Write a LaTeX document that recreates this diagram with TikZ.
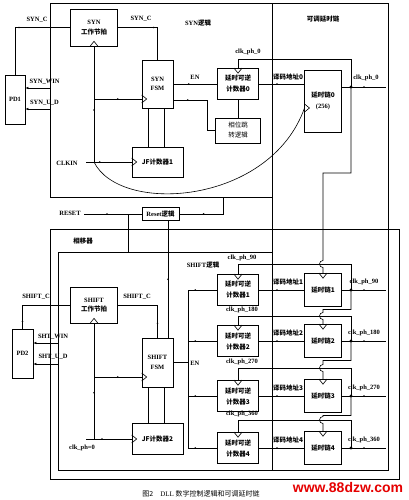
\documentclass[tikz,border=0pt]{standalone}
\usepackage{fontspec}
\setmainfont{Liberation Serif}
\newfontfamily\cjk{Noto Sans CJK SC}
\newfontfamily\wmfont{Liberation Sans}
\usetikzlibrary{arrows.meta,positioning,decorations.markings}
\newcommand{\zh}[1]{{\cjk #1}}

\tikzset{
  blk/.style={draw,line width=0.7pt,inner sep=0pt,align=center,font=\fontsize{6.5}{9.5}\selectfont\bfseries},
  cnt/.style={blk,minimum width=41,minimum height=31,font=\fontsize{6.5}{11}\selectfont\bfseries},
  chn/.style={blk,minimum width=37,minimum height=33},
  lbl/.style={inner sep=0pt,font=\fontsize{6.5}{8}\selectfont\bfseries},
  boxline/.style={line width=0.8pt},
  mk/.style={postaction={decorate},decoration={markings,mark=at position #1 with {\fill (0,0) circle (0.9pt);}}},
  mk/.default=0.5,
  win/.style={-{Latex[length=3pt,width=2.6pt]}},
}

\begin{document}
\begin{tikzpicture}[x=1pt,y=-1pt,line width=0.6pt]
  \useasboundingbox (0,0) rectangle (408,500);

  % frames
  \draw[boxline] (50,3) rectangle (272,197);
  \draw[boxline] (272,3) rectangle (388,470);
  \draw[boxline] (50,229) rectangle (399,479);
  \draw[boxline] (58,252) rectangle (272,470);
  \node[lbl] at (198,23) {SYN\zh{逻辑}};
  \node[lbl] at (323,19) {\zh{可调延时链}};
  \node[lbl] at (83,241) {\zh{相移器}};
  \node[lbl] at (203,265) {SHIFT\zh{逻辑}};

  % SYN part
  \node[blk,minimum width=20,minimum height=49] (pdone) at (15,99.5) {PD1};
  \node[blk,minimum width=47,minimum height=37] (synbeat) at (94,27.5) {SYN\\\zh{工作节拍}};
  \node[blk,minimum width=31,minimum height=48] (synfsm) at (157.5,84) {SYN\\FSM};
  \node[blk,minimum width=51,minimum height=30] (jfone) at (157.5,162) {\zh{JF计数器1}};
  \node[cnt] (cnt0) at (238,84) {\zh{延时可逆}\\\zh{计数器0}};
  \node[blk,minimum width=45,minimum height=25,font=\fontsize{6.5}{10}\selectfont] (phjmp) at (238,130.5) {\zh{相位跳}\\\zh{转逻辑}};
  \node[blk,minimum width=37,minimum height=62,font=\fontsize{6.5}{11}\selectfont\bfseries] (dly0) at (323,101) {\zh{延时链0}\\(256)};

  \coordinate (synwin) at (50,88);
  \coordinate (synud) at (50,109);
  \coordinate (clkin) at (86,162);
  \coordinate (ckone) at (94,162);
  \coordinate (ckfsm) at (94,99);
  \coordinate (d0in) at (304.5,108);
  \coordinate (j0) at (351,87);
  \coordinate (o0) at (386,87);

  \draw[mk] (pdone.north) |- (synbeat.west);
  \draw[win] (synwin) -- (synwin -| pdone.east);
  \draw[win] (synud) -- (synud -| pdone.east);
  \draw[mk] (synbeat.east) -| (synfsm.north);
  \draw[mk=.55] (synbeat.south) -- (ckone);
  \draw[mk] (ckfsm) -- (ckfsm -| synfsm.west);
  \draw[mk=.3] (clkin) -- (jfone.west);
  \draw ([xshift=-9.5pt]synfsm.south) -- ([xshift=-9.5pt]synfsm.south |- jfone.north);
  \draw ([xshift=6.5pt]synfsm.south) -- ([xshift=6.5pt]synfsm.south |- jfone.north);
  \draw[mk=.35] (synfsm.east) -- (cnt0.west);
  \draw[mk=.2] ([yshift=-16pt]synfsm.east) -- ++(34,0) |- (phjmp.west);
  \draw (phjmp.north) -- (cnt0.south);
  \draw[mk=.4] (cnt0.east) -- (cnt0.east -| dly0.west);
  \draw[mk=.5] (dly0.east |- j0) -- (o0);
  \fill (j0) circle (1.7);
  \draw (j0) |- (238,59) -- (cnt0.north);
  \draw (ckone) .. controls (120,215) and (270,205) .. (d0in);

  % clock marks
  \draw (synbeat.south) ++(-4,0) -- ++(4,-5) -- ++(4,5);
  \draw (ckfsm -| synfsm.west) ++(0,-4) -- ++(5,4) -- ++(-5,4);
  \draw (jfone.west) ++(0,-4) -- ++(5,4) -- ++(-5,4);
  \draw (cnt0.north) ++(-4,0) -- ++(4,5) -- ++(4,-5);
  \draw (d0in) ++(0,-4) -- ++(5,4) -- ++(-5,4);

  \node[lbl] at (37,20) {SYN\_C};
  \node[lbl] at (141,19) {SYN\_C};
  \node[lbl] at (44.5,82) {SYN\_WIN};
  \node[lbl] at (44.5,103) {SYN\_U\_D};
  \node[lbl] at (67,163) {CLKIN};
  \node[lbl] at (195,77) {EN};
  \node[lbl] at (248,52) {clk\_ph\_0};
  \node[lbl] at (288,77) {\zh{译码地址0}};
  \node[lbl] at (366,78) {clk\_ph\_0};

  % reset
  \node[blk,minimum width=37,minimum height=13] (resetb) at (160.5,214) {Reset\zh{逻辑}};
  \coordinate (rst) at (84,214);
  \coordinate (rstbr) at (128,214);
  \coordinate (rstdn) at (128,252);
  \coordinate (rstup) at (223,197);
  \draw[mk=.4] (rst) -- (resetb.west);
  \draw (rstbr) -- (rstdn);
  \draw[mk=.4] (resetb.east) -| (rstup);
  \node[lbl] at (70,213) {RESET};

  % SHIFT part
  \node[blk,minimum width=21,minimum height=49] (pdtwo) at (22.5,353.5) {PD2};
  \node[blk,minimum width=47,minimum height=36] (shbeat) at (94,305) {SHIFT\\\zh{工作节拍}};
  \node[blk,minimum width=31,minimum height=49] (shfsm) at (157.5,362.5) {SHIFT\\FSM};
  \node[blk,minimum width=51,minimum height=31] (jftwo) at (157.5,439) {\zh{JF计数器2}};
  \draw[mk] ([xshift=7.5pt]resetb.south) -- ([xshift=7.5pt]resetb.south |- shfsm.north);

  \coordinate (shtwin) at (58,343);
  \coordinate (shtud) at (58,364);
  \coordinate (clkph) at (86,439);
  \coordinate (cktwo) at (94,439);
  \coordinate (ckfsmb) at (94,377);
  \coordinate (enbus) at (188,362.5);

  \draw[mk=.1] (pdtwo.north) |- (shbeat.west);
  \draw[win] (shtwin) -- (shtwin -| pdtwo.east);
  \draw[win] (shtud) -- (shtud -| pdtwo.east);
  \draw[mk=.8] (shbeat.east) -| (shfsm.north);
  \draw[mk=.6] (shbeat.south) -- (cktwo);
  \draw[mk] (ckfsmb) -- (ckfsmb -| shfsm.west);
  \draw[mk=.35] (clkph) -- (jftwo.west);
  \draw ([xshift=-9.5pt]shfsm.south) -- ([xshift=-9.5pt]shfsm.south |- jftwo.north);
  \draw ([xshift=6.5pt]shfsm.south) -- ([xshift=6.5pt]shfsm.south |- jftwo.north);
  \draw (shfsm.east) -- (enbus);
  \draw (shbeat.south) ++(-4,0) -- ++(4,-5) -- ++(4,5);
  \draw (ckfsmb -| shfsm.west) ++(0,-4) -- ++(5,4) -- ++(-5,4);
  \draw (jftwo.west) ++(0,-4) -- ++(5,4) -- ++(-5,4);

  \node[lbl] at (36,297) {SHIFT\_C};
  \node[lbl] at (137,297) {SHIFT\_C};
  \node[lbl] at (53,337) {SHT\_WIN};
  \node[lbl] at (53,357) {SHT\_U\_D};
  \node[lbl] at (82,448) {clk\_ph=0};
  \node[lbl,anchor=west] at (190,363) {EN};

  % counters and delay chains
  \foreach \i/\m/\c/\p/\t/\ph in {1/290/264/0/173/90, 2/341/316/1/309.5/180, 3/396/368/2/360.5/270, 4/448/420/3/415.5/360} {
    \node[cnt] (cnt\i) at (238,\m) {\zh{延时可逆}\\\zh{计数器\i}};
    \node[chn] (dly\i) at (323,\m) {\zh{延时链\i}};
    \coordinate (j\i) at (351,\m);
    \coordinate (o\i) at (386,\m);
    \draw[mk=.25] (cnt\i.west -| enbus) -- (cnt\i.west);
    \draw[mk=.4] (cnt\i.east) -- (dly\i.west);
    \draw[mk=.5] (dly\i.east) -- (o\i);
    \fill (j\i) circle (1.7);
    \draw (j\i) |- (238,\c) -- (cnt\i.north);
    \draw (j\p) |- (323,\t) -- (323,\c-3.5) arc[start angle=-90,end angle=-270,radius=3.5] -- (dly\i.north);
    \draw (cnt\i.north) ++(-4,0) -- ++(4,5) -- ++(4,-5);
    \draw (dly\i.north) ++(-4,0) -- ++(4,5) -- ++(4,-5);
    \node[lbl] at (242,\c-6) {clk\_ph\_\ph};
    \node[lbl] at (288,\m-8) {\zh{译码地址\i}};
    \node[lbl] at (364,\m-8) {clk\_ph\_\ph};
  }
  \draw (cnt1.west -| enbus) -- (cnt4.west -| enbus);

  % caption
  \node[font=\fontsize{7}{8}\selectfont] (cap) at (201,494) {\zh{图2}\quad DLL \zh{数字控制逻辑和可调延时链}};
  \node[text=red!90!black,font=\wmfont\fontsize{14}{14}\selectfont\bfseries] (wm) at (348,487) {www.88dzw.com};
\end{tikzpicture}
\end{document}
